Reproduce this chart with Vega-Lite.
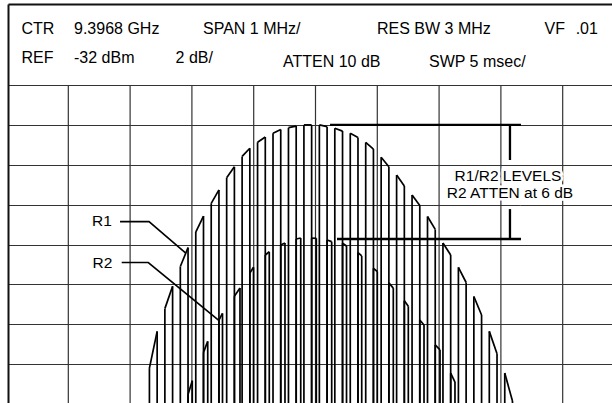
{
  "$schema": "https://vega.github.io/schema/vega-lite/v6.json",
  "width": 604,
  "height": 399,
  "autosize": {"type": "none"},
  "padding": {"left": 8, "top": 4, "right": 0, "bottom": 0},
  "background": "white",
  "config": {"view": {"stroke": null}, "text": {"font": "Liberation Sans", "color": "black"}},
  "datasets": {
    "vgrid": [{"mhz": -4}, {"mhz": -3}, {"mhz": -2}, {"mhz": -1}, {"mhz": 0}, {"mhz": 1}, {"mhz": 2}, {"mhz": 3}, {"mhz": 4}],
    "teeth": [
      {"lvl": "R1", "x1": -2.6875, "y1": -46.19, "x2": -2.5625, "y2": -44.35},
      {"lvl": "R1", "x1": -2.4375, "y1": -43.21, "x2": -2.3125, "y2": -42.09},
      {"lvl": "R1", "x1": -2.1875, "y1": -41.10, "x2": -2.0625, "y2": -40.15},
      {"lvl": "R1", "x1": -1.9375, "y1": -39.37, "x2": -1.8125, "y2": -38.57},
      {"lvl": "R1", "x1": -1.6875, "y1": -37.93, "x2": -1.5625, "y2": -37.26},
      {"lvl": "R1", "x1": -1.4375, "y1": -36.65, "x2": -1.3125, "y2": -36.10},
      {"lvl": "R1", "x1": -1.1875, "y1": -35.58, "x2": -1.0625, "y2": -35.17},
      {"lvl": "R1", "x1": -0.9375, "y1": -34.87, "x2": -0.8125, "y2": -34.61},
      {"lvl": "R1", "x1": -0.6875, "y1": -34.42, "x2": -0.5625, "y2": -34.23},
      {"lvl": "R1", "x1": -0.4375, "y1": -34.14, "x2": -0.3125, "y2": -34.06},
      {"lvl": "R1", "x1": -0.1875, "y1": -34.0, "x2": -0.0625, "y2": -34.0},
      {"lvl": "R1", "x1": 0.0625, "y1": -34.0, "x2": 0.1875, "y2": -34.09},
      {"lvl": "R1", "x1": 0.3125, "y1": -34.17, "x2": 0.4375, "y2": -34.31},
      {"lvl": "R1", "x1": 0.5625, "y1": -34.42, "x2": 0.6875, "y2": -34.63},
      {"lvl": "R1", "x1": 0.8125, "y1": -34.88, "x2": 0.9375, "y2": -35.21},
      {"lvl": "R1", "x1": 1.0625, "y1": -35.62, "x2": 1.1875, "y2": -36.10},
      {"lvl": "R1", "x1": 1.3125, "y1": -36.51, "x2": 1.4375, "y2": -37.06},
      {"lvl": "R1", "x1": 1.5625, "y1": -37.51, "x2": 1.6875, "y2": -38.04},
      {"lvl": "R1", "x1": 1.8125, "y1": -38.59, "x2": 1.9375, "y2": -39.24},
      {"lvl": "R1", "x1": 2.0625, "y1": -39.92, "x2": 2.1875, "y2": -40.52},
      {"lvl": "R1", "x1": 2.3125, "y1": -41.14, "x2": 2.4375, "y2": -41.90},
      {"lvl": "R1", "x1": 2.5625, "y1": -42.60, "x2": 2.6875, "y2": -43.53},
      {"lvl": "R1", "x1": 2.8125, "y1": -44.35, "x2": 2.9375, "y2": -45.47},
      {"lvl": "R1", "x1": 3.0625, "y1": -46.44, "x2": 3.1875, "y2": -47.84},
      {"lvl": "R2", "x1": -2.0625, "y1": -47.52, "x2": -1.994, "y2": -46.82},
      {"lvl": "R2", "x1": -1.8125, "y1": -45.40, "x2": -1.744, "y2": -44.85},
      {"lvl": "R2", "x1": -1.5625, "y1": -43.78, "x2": -1.505, "y2": -43.45},
      {"lvl": "R2", "x1": -1.3125, "y1": -42.59, "x2": -1.222, "y2": -42.18},
      {"lvl": "R2", "x1": -1.0625, "y1": -41.42, "x2": -1.003, "y2": -41.14},
      {"lvl": "R2", "x1": -0.8125, "y1": -40.52, "x2": -0.748, "y2": -40.36},
      {"lvl": "R2", "x1": -0.5625, "y1": -40.02, "x2": -0.494, "y2": -39.92},
      {"lvl": "R2", "x1": -0.3125, "y1": -39.72, "x2": -0.239, "y2": -39.67},
      {"lvl": "R2", "x1": -0.0625, "y1": -39.68, "x2": 0.013, "y2": -39.68},
      {"lvl": "R2", "x1": 0.1875, "y1": -39.77, "x2": 0.262, "y2": -39.85},
      {"lvl": "R2", "x1": 0.4375, "y1": -39.93, "x2": 0.502, "y2": -40.07},
      {"lvl": "R2", "x1": 0.6875, "y1": -40.40, "x2": 0.748, "y2": -40.57},
      {"lvl": "R2", "x1": 0.9375, "y1": -41.19, "x2": 1.000, "y2": -41.35},
      {"lvl": "R2", "x1": 1.1875, "y1": -41.92, "x2": 1.259, "y2": -42.18},
      {"lvl": "R2", "x1": 1.4375, "y1": -42.81, "x2": 1.502, "y2": -43.09},
      {"lvl": "R2", "x1": 1.6875, "y1": -43.78, "x2": 1.756, "y2": -44.03},
      {"lvl": "R2", "x1": 1.9375, "y1": -45.03, "x2": 2.015, "y2": -45.28},
      {"lvl": "R2", "x1": 2.1875, "y1": -46.44, "x2": 2.257, "y2": -46.89}
    ],
    "bars": [
      {"x1": 0.235, "y1": -34, "x2": 3.325, "y2": -34},
      {"x1": 0.348, "y1": -39.72, "x2": 3.325, "y2": -39.72},
      {"x1": 3.147, "y1": -34, "x2": 3.147, "y2": -35.76},
      {"x1": 3.147, "y1": -38.22, "x2": 3.147, "y2": -39.72}
    ],
    "leaders": [
      {"id": "R1", "ord": 1, "fx": -3.163, "fy": -38.85},
      {"id": "R1", "ord": 2, "fx": -2.694, "fy": -38.85},
      {"id": "R1", "ord": 3, "fx": -2.104, "fy": -40.42},
      {"id": "R2", "ord": 1, "fx": -3.136, "fy": -40.90},
      {"id": "R2", "ord": 2, "fx": -2.706, "fy": -40.90},
      {"id": "R2", "ord": 3, "fx": -1.570, "fy": -43.78}
    ],
    "labels": [
      {"grp": "header", "label": "CTR", "fx": -4.757, "fy": -29.19},
      {"grp": "header", "label": "9.3968 GHz", "fx": -3.908, "fy": -29.19},
      {"grp": "header", "label": "SPAN 1 MHz/", "fx": -1.820, "fy": -29.19},
      {"grp": "header", "label": "RES BW 3 MHz", "fx": 0.995, "fy": -29.19},
      {"grp": "header", "label": "VF", "fx": 3.706, "fy": -29.19},
      {"grp": "header", "label": ".01", "fx": 4.210, "fy": -29.19},
      {"grp": "header", "label": "REF", "fx": -4.757, "fy": -30.65},
      {"grp": "header", "label": "-32 dBm", "fx": -3.908, "fy": -30.65},
      {"grp": "header", "label": "2 dB/", "fx": -2.264, "fy": -30.65},
      {"grp": "header", "label": "ATTEN 10 dB", "fx": -0.526, "fy": -30.85},
      {"grp": "header", "label": "SWP 5 msec/", "fx": 1.837, "fy": -30.85},
      {"grp": "note", "label": "R1/R2 LEVELS", "fx": 3.115, "fy": -36.56},
      {"grp": "note", "label": "R2 ATTEN at 6 dB", "fx": 3.147, "fy": -37.39},
      {"grp": "tag", "label": "R1", "fx": -3.455, "fy": -38.82},
      {"grp": "tag", "label": "R2", "fx": -3.447, "fy": -40.90}
    ]
  },
  "layer": [
    {
      "data": {"name": "vgrid"},
      "mark": {"type": "rule", "color": "#333", "strokeWidth": 1.2},
      "encoding": {
        "x": {"field": "mhz", "type": "quantitative", "scale": {"domain": [-4.976, 4.798], "nice": false, "zero": false},
              "axis": {"orient": "top", "domain": true, "domainColor": "#111", "domainWidth": 2, "ticks": false, "labels": false, "grid": false, "title": null}},
        "y": {"datum": -32, "type": "quantitative", "scale": {"domain": [-47.94, -27.94], "nice": false, "zero": false},
              "axis": {"orient": "left", "domain": true, "domainColor": "#111", "domainWidth": 2, "ticks": false, "labels": false, "grid": true, "gridColor": "#333", "gridWidth": 1.2, "values": [-46, -44, -42, -40, -38, -36, -34, -32], "title": null}},
        "y2": {"datum": -48}
      }
    },
    {
      "data": {"name": "teeth"},
      "mark": {"type": "rule", "color": "black", "strokeWidth": 1.7, "clip": true},
      "encoding": {
        "x": {"field": "x1", "type": "quantitative"},
        "y": {"field": "y1", "type": "quantitative"},
        "y2": {"datum": -48}
      }
    },
    {
      "data": {"name": "teeth"},
      "mark": {"type": "rule", "color": "black", "strokeWidth": 1.7, "clip": true},
      "encoding": {
        "x": {"field": "x2", "type": "quantitative"},
        "y": {"field": "y2", "type": "quantitative"},
        "y2": {"datum": -48}
      }
    },
    {
      "data": {"name": "teeth"},
      "mark": {"type": "rule", "color": "black", "strokeWidth": 1.7, "clip": true},
      "encoding": {
        "x": {"field": "x1", "type": "quantitative"},
        "y": {"field": "y1", "type": "quantitative"},
        "x2": {"field": "x2"},
        "y2": {"field": "y2"}
      }
    },
    {
      "data": {"name": "bars"},
      "mark": {"type": "rule", "color": "black", "strokeWidth": 2.3},
      "encoding": {
        "x": {"field": "x1", "type": "quantitative"},
        "y": {"field": "y1", "type": "quantitative"},
        "x2": {"field": "x2"},
        "y2": {"field": "y2"}
      }
    },
    {
      "data": {"name": "leaders"},
      "mark": {"type": "line", "color": "black", "strokeWidth": 1.6},
      "encoding": {
        "x": {"field": "fx", "type": "quantitative"},
        "y": {"field": "fy", "type": "quantitative"},
        "detail": {"field": "id"},
        "order": {"field": "ord", "type": "quantitative"}
      }
    },
    {
      "data": {"name": "labels"},
      "transform": [{"filter": "datum.grp === 'note'"}],
      "mark": {"type": "text", "align": "center", "baseline": "middle", "fontSize": 15.5, "stroke": "white", "strokeWidth": 5, "fill": "white"},
      "encoding": {
        "x": {"field": "fx", "type": "quantitative"},
        "y": {"field": "fy", "type": "quantitative"},
        "text": {"field": "label"}
      }
    },
    {
      "data": {"name": "labels"},
      "transform": [{"filter": "datum.grp === 'note'"}],
      "mark": {"type": "text", "align": "center", "baseline": "middle", "fontSize": 15.5, "fill": "black"},
      "encoding": {
        "x": {"field": "fx", "type": "quantitative"},
        "y": {"field": "fy", "type": "quantitative"},
        "text": {"field": "label"}
      }
    },
    {
      "data": {"name": "labels"},
      "transform": [{"filter": "datum.grp === 'tag'"}],
      "mark": {"type": "text", "align": "center", "baseline": "middle", "fontSize": 15.5, "fill": "black"},
      "encoding": {
        "x": {"field": "fx", "type": "quantitative"},
        "y": {"field": "fy", "type": "quantitative"},
        "text": {"field": "label"}
      }
    },
    {
      "data": {"name": "labels"},
      "transform": [{"filter": "datum.grp === 'header'"}],
      "mark": {"type": "text", "align": "left", "baseline": "middle", "fontSize": 16, "fill": "black"},
      "encoding": {
        "x": {"field": "fx", "type": "quantitative"},
        "y": {"field": "fy", "type": "quantitative"},
        "text": {"field": "label"}
      }
    }
  ]
}
